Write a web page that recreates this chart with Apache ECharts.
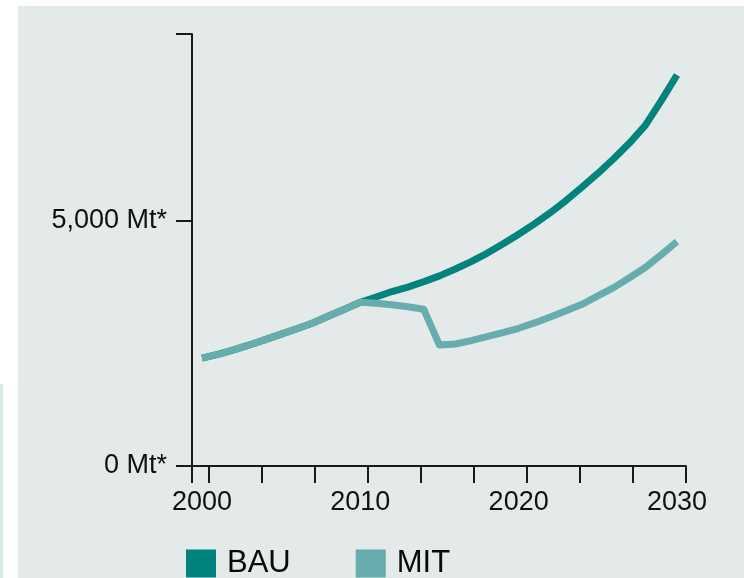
<!DOCTYPE html>
<html>
<head>
<meta charset="utf-8">
<script src="https://cdn.jsdelivr.net/npm/echarts@6/dist/echarts.min.js"></script>
<style>
html,body{margin:0;padding:0;background:#ffffff;}
#chart{width:744px;height:578px;}
</style>
</head>
<body>
<div id="chart"></div>
<script>
var years = [2000,2001,2002,2003,2004,2005,2006,2007,2008,2009,2010,2011,2012,2013,2014,2015,2016,2017,2018,2019,2020,2021,2022,2023,2024,2025,2026,2027,2028,2029,2030];
var bauValues = [2200,2280,2370,2470,2580,2690,2800,2920,3060,3200,3340,3450,3560,3650,3760,3880,4020,4170,4340,4530,4730,4940,5170,5420,5690,5970,6270,6590,6950,7450,7980];
var mitValues = [2200,2280,2370,2470,2580,2690,2800,2920,3060,3200,3340,3320,3290,3250,3200,2470,2490,2560,2640,2720,2810,2920,3040,3170,3300,3470,3640,3840,4050,4310,4580];
var seriesNames = ['BAU','MIT'];
var xLabelValues = [2000,2010,2020,2030];
var xTickValues = [1999.37,2000.44,2003.77,2007.14,2010.47,2013.79,2017.16,2020.53,2023.85,2027.2,2030.57];
var yLabelValues = [0,5000];
var yLabels = ['0 Mt*','5,000 Mt*'];
var yTickValues = [0,5000,8816];

function pairs(vals){ return years.map(function(y,i){ return [y, vals[i]]; }); }

var chart = echarts.init(document.getElementById('chart'), null, {renderer:'canvas'});
var font = 'Liberation Sans, Arial, sans-serif';
var axisColor = '#1a1a1a';
chart.setOption({
  animation:false,
  backgroundColor:'#ffffff',
  graphic:[
    {type:'rect', z:-10, shape:{x:18,y:6,width:726,height:572}, style:{fill:'#e4eaea'}},
    {type:'rect', z:-10, shape:{x:0,y:384,width:3,height:194}, style:{fill:'#d6e8e8'}}
  ],
  grid:{left:192, right:58, top:34, bottom:112, containLabel:false},
  legend:{
    left:181, top:543, itemWidth:30, itemHeight:28, itemGap:65, icon:'rect',
    data:seriesNames,
    textStyle:{fontFamily:font, fontSize:31, color:'#0a0a0a', padding:[0,0,0,6]}
  },
  xAxis:{
    type:'value', min:1999.37, max:2030.57,
    splitLine:{show:false},
    axisLine:{show:true, lineStyle:{color:axisColor, width:2}},
    axisTick:{show:true, length:17, customValues:xTickValues, lineStyle:{color:axisColor, width:2}},
    axisLabel:{customValues:xLabelValues, fontFamily:font, fontSize:27, color:'#111', margin:23,
      formatter:function(v){ return String(v); }}
  },
  yAxis:{
    type:'value', min:0, max:8816,
    splitLine:{show:false},
    axisLine:{show:true, lineStyle:{color:axisColor, width:2}},
    axisTick:{show:true, length:16, customValues:yTickValues, lineStyle:{color:axisColor, width:2}},
    axisLabel:{customValues:yLabelValues, fontFamily:font, fontSize:27, color:'#111', margin:25,
      formatter:function(v){ var i = yLabelValues.indexOf(v); return i>=0 ? yLabels[i] : ''; }}
  },
  series:[
    {name:seriesNames[0], type:'line', data:pairs(bauValues), showSymbol:false, symbol:'none', z:2,
      itemStyle:{color:'#00837e'}, lineStyle:{color:'#00837e', width:7, join:'round'}},
    {name:seriesNames[1], type:'line', data:pairs(mitValues), showSymbol:false, symbol:'none', z:3,
      itemStyle:{color:'#68adad'}, lineStyle:{color:'#68adad', width:7, join:'round'}}
  ]
});
</script>
</body>
</html>
